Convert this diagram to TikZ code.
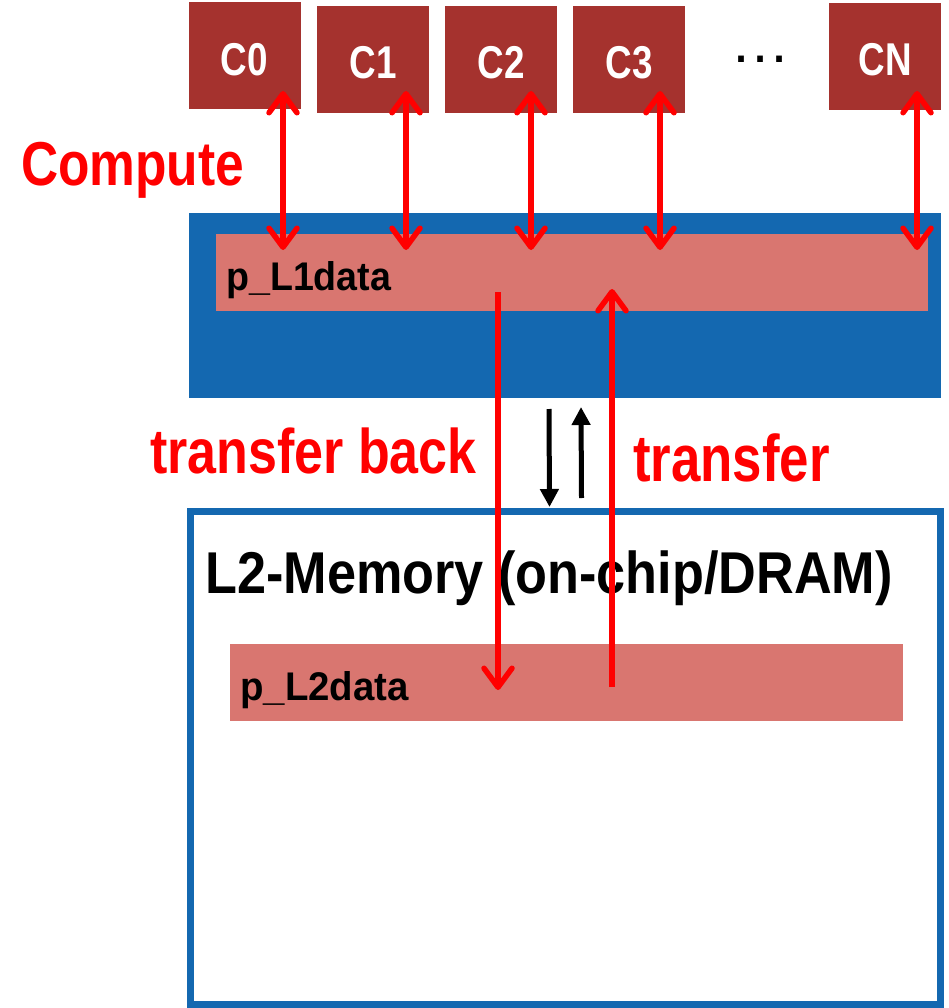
\documentclass[tikz,border=0pt]{standalone}
\usepackage{fontspec}
\setmainfont{Liberation Sans}
\usetikzlibrary{arrows.meta,calc}
\definecolor{core}{RGB}{165,50,46}
\definecolor{pinkbar}{RGB}{217,118,112}
\definecolor{memblue}{RGB}{20,104,176}
\definecolor{arrred}{RGB}{255,0,0}
\newcommand\myfs[1]{\fontsize{#1}{#1}\selectfont}
\begin{document}
\begin{tikzpicture}[x=1pt,y=-1pt,
  corebox/.style={fill=core, draw=none, minimum width=112pt, minimum height=107pt,
    inner sep=0pt, outer sep=0pt, text=white, text height=39pt, text depth=0pt,
    font=\bfseries\myfs{46}},
  bar/.style={fill=pinkbar, draw=none, inner sep=0pt, outer sep=0pt},
  bartext/.style={anchor=base west, inner sep=0pt, font=\bfseries\myfs{40}},
  redlabel/.style={anchor=base west, inner sep=0pt, text=arrred},
  dbl/.style={draw=arrred, line width=5.5pt,
    {Straight Barb[length=19pt,width=28pt,round]}-{Straight Barb[length=19pt,width=28pt,round]}},
  redarrow/.style={draw=arrred, line width=5.5pt, -{Straight Barb[length=19pt,width=28pt,round]}},
  blkarrow/.style={draw=black, line width=5pt, -{Triangle[length=18pt,width=18pt]}}
]
\useasboundingbox (0,0) rectangle (948,1008);

% L1 (blue) and L2 boxes
\node[fill=memblue, draw=none, inner sep=0pt, outer sep=0pt,
  minimum width=752pt, minimum height=185pt] (l1) at (565,305.5) {};
\node[draw=memblue, line width=7pt, inner sep=0pt, outer sep=0pt,
  minimum width=750pt, minimum height=493pt] (l2) at (565.5,757.5) {};

% data bars
\node[bar, minimum width=712pt, minimum height=77pt] (l1d) at (572,272.5) {};
\node[bar, minimum width=673pt, minimum height=77pt] (l2d) at (566.5,682.5) {};
\node[bartext] (l1dt) at (226,290.5) {\scalebox{0.94}[1]{p\_L1data}};
\node[bartext] (l2dt) at (240,700) {\scalebox{0.96}[1]{p\_L2data}};

% cores
\node[corebox] (c0) at (244.5,56) {\scalebox{0.8}[1]{C0}};
\node[corebox] (c1) at (373,59.5) {\scalebox{0.8}[1]{C1}};
\node[corebox] (c2) at (501,59.5) {\scalebox{0.8}[1]{C2}};
\node[corebox] (c3) at (629,59.5) {\scalebox{0.8}[1]{C3}};
\node[corebox] (cN) at (885,56.5) {\scalebox{0.8}[1]{CN}};
\node[anchor=base, inner sep=0pt, font=\myfs{60}] (dots) at (760,63) {…};

% labels
\node[redlabel, font=\bfseries\myfs{62}] (compute) at (21,186) {\scalebox{0.83}[1]{Compute}};
\node[redlabel, font=\bfseries\myfs{63}] (tback) at (150,473) {\scalebox{0.825}[1]{transfer back}};
\node[redlabel, font=\bfseries\myfs{66}] (tfwd) at (633,481.5) {\scalebox{0.8}[1]{transfer}};
\node[anchor=base west, inner sep=0pt, font=\bfseries\myfs{59}] (l2t) at (205,593)
  {\scalebox{0.885}[1]{L2-Memory (on-chip/DRAM)}};

% compute arrows
\draw[dbl] ($(c0.south)+(38.5,-18.5)$) -- ($(c0.south |- l1d.north)+(38.5,16)$);
\draw[dbl] ($(c1.south)+(33,-22)$) -- ($(c1.south |- l1d.north)+(33,16)$);
\draw[dbl] ($(c2.south)+(30,-22)$) -- ($(c2.south |- l1d.north)+(30,16)$);
\draw[dbl] ($(c3.south)+(31,-22)$) -- ($(c3.south |- l1d.north)+(31,16)$);
\draw[dbl] ($(cN.south)+(32,-19)$) -- ($(cN.south |- l1d.north)+(32,16)$);

% transfer arrows
\draw[redarrow] ($(l1d.south west)+(282,-19)$) -- ($(l2d.south west)+(268,-31)$);
\draw[redarrow] ($(l2d.south west)+(382,-34)$) -- ($(l1d.north west)+(396,55)$);

% black arrows
\draw[blkarrow] ($(l1.south)+(-16,11)$) -- ($(l2.north)+(-16,-4)$);
\draw[blkarrow] ($(l2.north)+(16,-13)$) -- ($(l1.south)+(16,9)$);
\end{tikzpicture}
\end{document}
